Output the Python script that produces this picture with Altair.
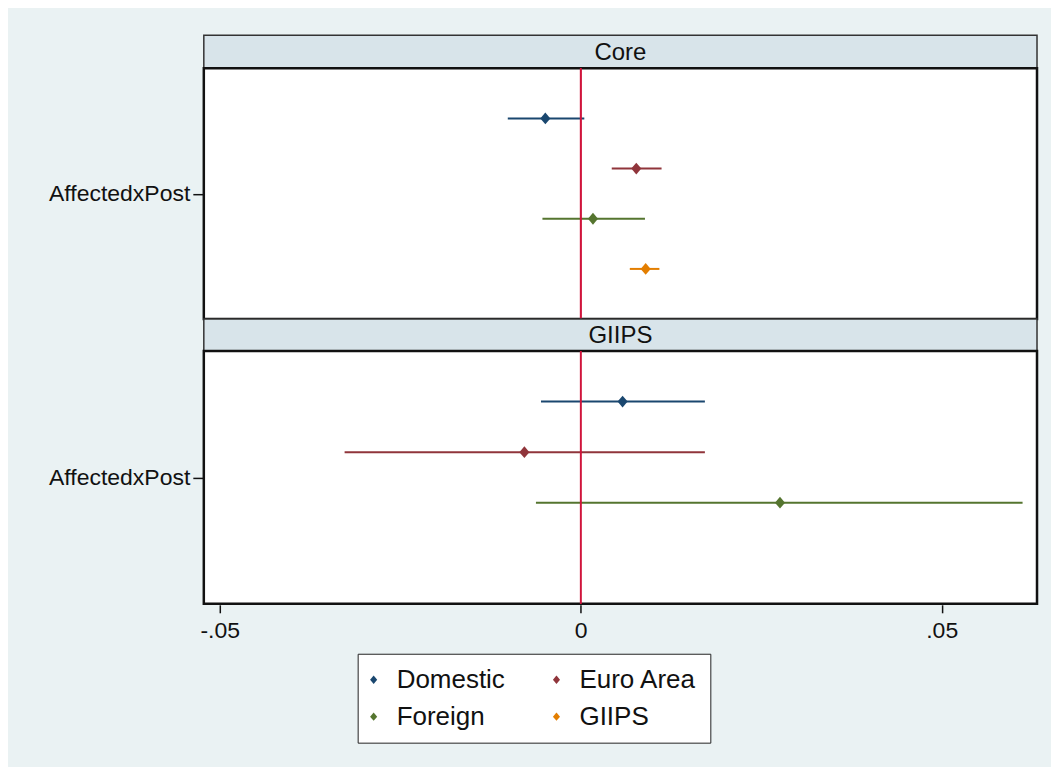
import altair as alt
import pandas as pd

# ---- data ----
series = ["Domestic", "Euro Area", "Foreign", "GIIPS"]
colors = ["#1a476f", "#90353b", "#55752f", "#e37e00"]

core_series = ["Domestic", "Euro Area", "Foreign", "GIIPS"]
core_coef = [-0.0049, 0.0077, 0.0017, 0.0090]
core_lo = [-0.0101, 0.0043, -0.0053, 0.0068]
core_hi = [0.0005, 0.0112, 0.0089, 0.0109]

giips_series = ["Domestic", "Euro Area", "Foreign"]
giips_coef = [0.0058, -0.0078, 0.0276]
giips_lo = [-0.0055, -0.0327, -0.0062]
giips_hi = [0.0172, 0.0172, 0.0612]

x_ticks = [-0.05, 0, 0.05]
y_label = "AffectedxPost"
panels = ["Core", "GIIPS"]

FONT = "Arial, Liberation Sans, sans-serif"
W = 834
BG = "#eaf2f3"
STRIP = "#d8e4ea"
DIAMOND = "M0,-1L0.85,0L0,1L-0.85,0Z"
XDOM = [-0.0522, 0.0632]


def panel_df(ser, coef, lo, hi):
    return pd.DataFrame({"series": ser, "coef": coef, "lo": lo, "hi": hi})


def header(title, h):
    df = pd.DataFrame({"t": [title]})
    box = alt.Chart(df).mark_rect(fill=STRIP, stroke="#333333", strokeWidth=1.5).encode(
        x=alt.value(0), x2=alt.value(W), y=alt.value(0), y2=alt.value(h)
    )
    txt = alt.Chart(df).mark_text(
        font=FONT, fontSize=24, color="#111111", baseline="middle", align="center"
    ).encode(text="t:N", x=alt.value(W / 2), y=alt.value(h / 2 + 1))
    return alt.layer(box, txt).properties(
        width=W, height=h, view=alt.ViewBackground(strokeOpacity=0, fillOpacity=0)
    )


def make_legend():
    kw = dict(
        title=None, orient="none", legendX=154, legendY=619, columns=2,
        direction="horizontal",
        symbolType=DIAMOND, symbolSize=70, labelFontSize=26, labelFont=FONT,
        labelColor="#111111", labelOffset=10, columnPadding=47,
        rowPadding=11, padding=13, strokeColor="#222222", fillColor="white",
        symbolStrokeWidth=0,
    )
    try:
        return alt.Legend(symbolOffset=-10, **kw)
    except Exception:
        return alt.Legend(**kw)


def panel(df, h, show_x):
    base = alt.Chart(df).transform_calculate(
        slot="indexof(%s, datum.series) + 1" % str(series)
    )
    if show_x:
        xaxis = alt.Axis(
            values=x_ticks,
            labelExpr="datum.value == 0 ? '0' : replace(replace(format(datum.value, '.2f'), '0.', '.'), '\u2212', '-')",
            domain=False, grid=False, ticks=True, tickSize=8, tickWidth=1.5,
            tickColor="#111111", labelFontSize=23, labelFont=FONT, labelColor="#111111",
            labelPadding=7, title=None, offset=1,
        )
    else:
        xaxis = None
    xs = alt.Scale(domain=XDOM, nice=False, zero=False)
    ys = alt.Scale(domain=[0, 5], reverse=True, nice=False, zero=False)
    yaxis = alt.Axis(
        values=[2.5], labelExpr="'%s'" % y_label, domain=False, grid=False,
        tickSize=11, tickWidth=1.5, tickColor="#111111", labelFontSize=23,
        labelFont=FONT, labelColor="#111111", labelPadding=3, title=None,
    )
    color = alt.Color("series:N", scale=alt.Scale(domain=series, range=colors),
                      legend=make_legend())
    ci = base.mark_rule(strokeWidth=2).encode(
        x=alt.X("lo:Q", scale=xs, axis=xaxis),
        x2="hi:Q",
        y=alt.Y("slot:Q", scale=ys, axis=yaxis),
        color=color,
    )
    pts = base.mark_point(shape=DIAMOND, filled=True, size=140, opacity=1).encode(
        x=alt.X("coef:Q", scale=xs, axis=xaxis),
        y=alt.Y("slot:Q", scale=ys, axis=yaxis),
        color=color,
    )
    zero = alt.Chart(df).mark_rule(color="#d0143c", strokeWidth=1.5).encode(
        x=alt.datum(0, scale=xs)
    )
    return alt.layer(ci, pts, zero).properties(
        width=W, height=h,
        view=alt.ViewBackground(fill="white", stroke="#111111", strokeWidth=2.5),
    )


p1 = panel(panel_df(core_series, core_coef, core_lo, core_hi), 251, False)
p2 = panel(panel_df(giips_series, giips_coef, giips_lo, giips_hi), 253, True)

chart = alt.vconcat(
    header(panels[0], 33), p1, header(panels[1], 32), p2, spacing=0, bounds="flush"
).properties(
    background=BG,
    padding={"left": 39, "top": 26, "right": 12, "bottom": 23},
).configure_concat(spacing=0)

chart.save("out.html", embed_options={"renderer": "svg", "actions": False})
